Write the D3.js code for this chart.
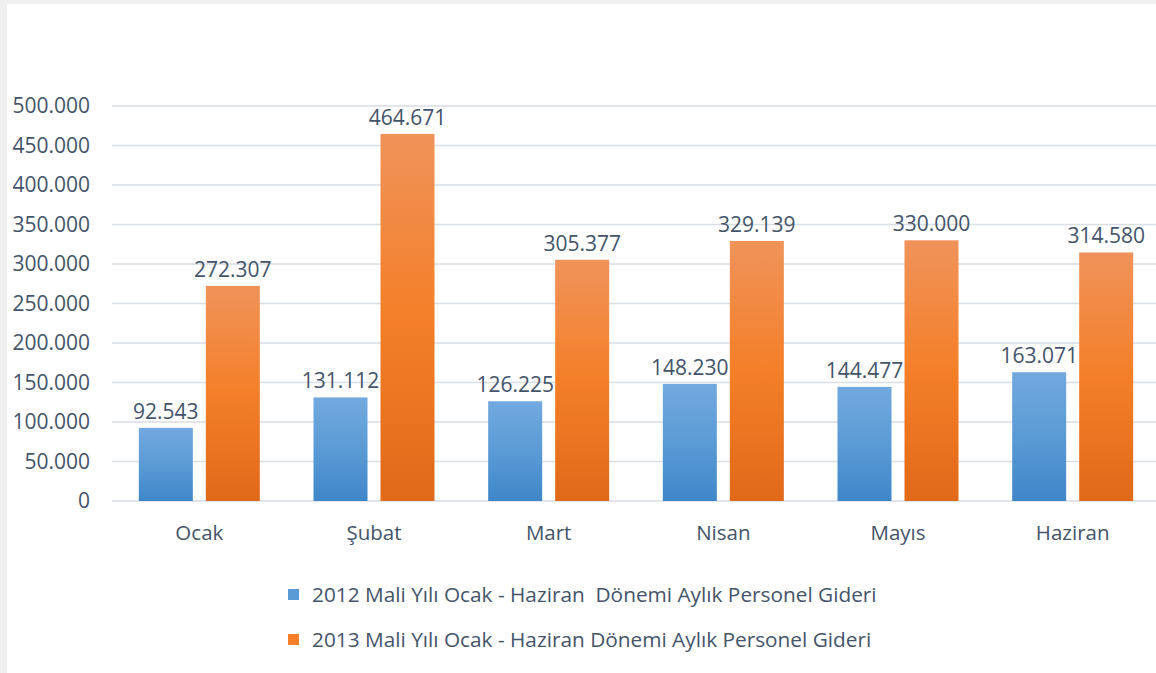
<!DOCTYPE html>
<html>
<head>
<meta charset="utf-8">
<script src="https://cdn.jsdelivr.net/npm/d3@7"></script>
<style>
body { margin: 0; background: #f0f0f0; }
svg { display: block; }
text { font-family: "Open Sans", sans-serif; fill: #44546a; }
</style>
</head>
<body>
<svg width="1156" height="673"></svg>
<script>
var svg_width = 1156;
var svg_height = 673;
// the plot runs a little past the right edge, as in the original crop
var margin = { top: 106, bottom: 172, left: 112, right: -4 };
var plot_width = svg_width - margin.left - margin.right;
var plot_height = svg_height - margin.top - margin.bottom;

var months = ["Ocak", "Şubat", "Mart", "Nisan", "Mayıs", "Haziran"];
var series_names = [
    "2012 Mali Yılı Ocak - Haziran  Dönemi Aylık Personel Gideri",
    "2013 Mali Yılı Ocak - Haziran Dönemi Aylık Personel Gideri"
];
var values_2012 = [92543, 131112, 126225, 148230, 144477, 163071];
var values_2013 = [272307, 464671, 305377, 329139, 330000, 314580];
var y_ticks = [0, 50000, 100000, 150000, 200000, 250000, 300000, 350000, 400000, 450000, 500000];

var svg = d3.select("svg");

// white chart area with a thin grey frame around it
svg.append("rect")
    .attr("x", 7).attr("y", 4)
    .attr("width", svg_width - 7).attr("height", svg_height - 4)
    .attr("fill", "#ffffff");

var defs = svg.append("defs");
function gradient(id, top, mid, bottom) {
    var g = defs.append("linearGradient").attr("id", id)
        .attr("x1", 0).attr("y1", 0).attr("x2", 0).attr("y2", 1);
    g.append("stop").attr("offset", "0%").attr("stop-color", top);
    g.append("stop").attr("offset", "50%").attr("stop-color", mid);
    g.append("stop").attr("offset", "100%").attr("stop-color", bottom);
}
gradient("blue_grad", "#72a9df", "#5b9bd5", "#3f86c9");
gradient("orange_grad", "#f0935a", "#f47f28", "#e0691a");

const xscale = d3.scaleBand()
    .domain(months)
    .range([0, plot_width]);
const yscale = d3.scaleLinear()
    .domain([0, 500000])
    .range([plot_height, 0]);

var fmt = function (v) { return d3.format(",")(v).replace(/,/g, "."); };

var g = svg.append("g")
    .attr("transform", `translate(${margin.left}, ${margin.top})`);

// gridlines
g.selectAll("line.grid").data(y_ticks).enter().append("line")
    .attr("class", "grid")
    .attr("x1", 0).attr("x2", plot_width)
    .attr("y1", function (d) { return yscale(d); })
    .attr("y2", function (d) { return yscale(d); })
    .attr("stroke", "#d9dde4")
    .attr("stroke-width", 1.5);

// y axis labels
const yAxis = d3.axisLeft(yscale).tickValues(y_ticks).tickSize(0).tickPadding(22)
    .tickFormat(function (d) { return d === 0 ? "0" : fmt(d); });
var ya = g.append("g").call(yAxis);
ya.select(".domain").remove();
ya.selectAll("text").attr("font-size", 21).attr("fill", "#44546a")
    .style("font-family", "'Open Sans', sans-serif");

// x axis labels
const xAxis = d3.axisBottom(xscale).tickSize(0).tickPadding(24);
var xa = g.append("g").attr("transform", `translate(0, ${plot_height})`).call(xAxis);
xa.select(".domain").remove();
xa.selectAll("text").attr("font-size", 20.5).attr("fill", "#44546a")
    .style("font-family", "'Open Sans', sans-serif");

var bar_w = 54;
var gap = 13;
function draw_series(values, offset, fill) {
    var groups = g.append("g");
    groups.selectAll("rect").data(values).enter().append("rect")
        .attr("x", function (d, i) { return xscale(months[i]) + xscale.bandwidth() / 2 + offset; })
        .attr("y", function (d) { return yscale(d); })
        .attr("width", bar_w)
        .attr("height", function (d) { return plot_height - yscale(d); })
        .attr("fill", fill);
    groups.selectAll("text").data(values).enter().append("text")
        .attr("x", function (d, i) { return xscale(months[i]) + xscale.bandwidth() / 2 + offset + bar_w / 2; })
        .attr("y", function (d) { return yscale(d) - 9; })
        .attr("text-anchor", "middle")
        .attr("font-size", 21)
        .text(function (d) { return fmt(d); });
}
draw_series(values_2012, -gap / 2 - bar_w, "url(#blue_grad)");
draw_series(values_2013, gap / 2, "url(#orange_grad)");

// legend
var legend_colors = ["#5b9bd5", "#f47f28"];
var legend = svg.append("g").attr("transform", "translate(288, 589)");
series_names.forEach(function (name, i) {
    var row = legend.append("g").attr("transform", `translate(0, ${i * 45})`);
    row.append("rect").attr("x", 0).attr("y", 0).attr("width", 11).attr("height", 11)
        .attr("fill", legend_colors[i]);
    row.append("text").attr("x", 24).attr("y", 13).attr("font-size", 20.8)
        .style("white-space", "pre").text(name);
});
</script>
</body>
</html>
